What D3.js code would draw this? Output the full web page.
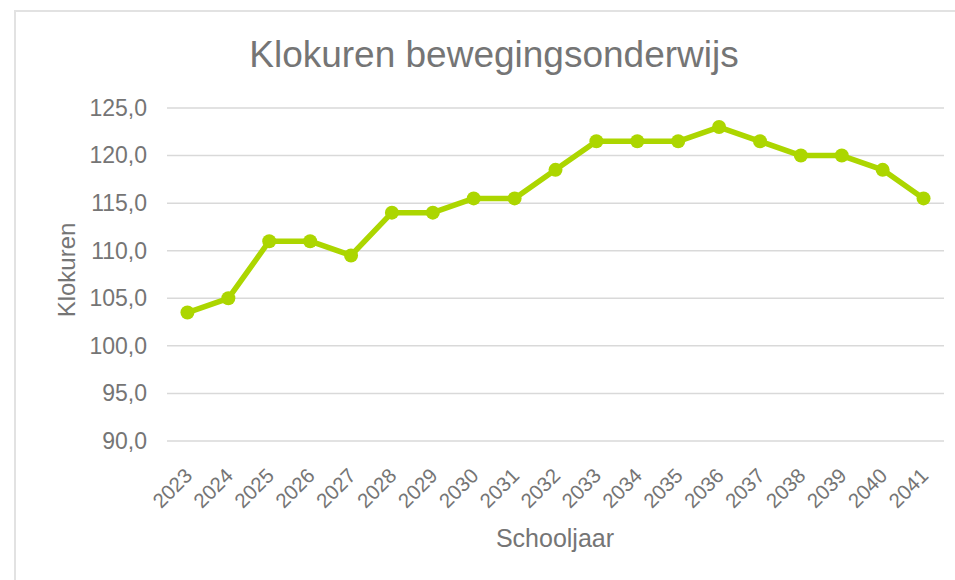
<!DOCTYPE html>
<html>
<head>
<meta charset="utf-8">
<script src="https://cdn.jsdelivr.net/npm/d3@7"></script>
<style>
  html, body { margin: 0; padding: 0; background: #fff; }
  svg { display: block; font-family: "Liberation Sans", Arial, sans-serif; }
</style>
</head>
<body>
<svg id="chart" width="955" height="580"></svg>
<script>
const years = ["2023","2024","2025","2026","2027","2028","2029","2030","2031","2032","2033","2034","2035","2036","2037","2038","2039","2040","2041"];
const klokuren = [103.5,105,111,111,109.5,114,114,115.5,115.5,118.5,121.5,121.5,121.5,123,121.5,120,120,118.5,115.5];
const yTicks = [90,95,100,105,110,115,120,125];
const title = "Klokuren bewegingsonderwijs";
const yTitle = "Klokuren";
const xTitle = "Schooljaar";

(function () {
const svg = d3.select("#chart");
const textColor = "#757575";
const lineColor = "#acd600";
const ff = "Liberation Sans, Arial, sans-serif";

// outer chart border
svg.append("rect").attr("x", 15).attr("y", 11).attr("width", 960).attr("height", 600)
  .attr("fill", "none").attr("stroke", "#e2e2e2").attr("stroke-width", 2);

const pLeft = 167, pRight = 944, pTop = 108, pBottom = 441;
const x = d3.scaleBand().domain(years).range([pLeft, pRight]);
const y = d3.scaleLinear().domain([90, 125]).range([pBottom, pTop]);

// gridlines
svg.append("g").selectAll("line").data(yTicks).join("line")
  .attr("x1", pLeft).attr("x2", pRight)
  .attr("y1", d => y(d)).attr("y2", d => y(d))
  .attr("stroke", "#d9d9d9").attr("stroke-width", 1.5);

// y axis labels
const fmt = d => d3.format(".1f")(d).replace(".", ",");
const yAxis = d3.axisLeft(y).tickValues(yTicks).tickFormat(fmt).tickSize(0).tickPadding(0);
const gy = svg.append("g").attr("transform", `translate(147,0)`).call(yAxis);
gy.select(".domain").remove();
gy.selectAll("text").attr("fill", textColor).attr("font-size", 23).attr("font-family", ff);

// x axis labels
const xAxis = d3.axisBottom(x).tickSize(0).tickPadding(0);
const gx = svg.append("g").attr("transform", `translate(0,${pBottom})`).call(xAxis);
gx.select(".domain").remove();
gx.selectAll("text")
  .attr("fill", textColor).attr("font-size", 20.5).attr("font-family", ff)
  .attr("text-anchor", "end")
  .attr("dy", "0")
  .attr("y", 0)
  .attr("transform", "translate(6,36) rotate(-45)");

// line
const line = d3.line().x((d, i) => x(years[i]) + x.bandwidth() / 2).y(d => y(d));
svg.append("path").datum(klokuren).attr("d", line)
  .attr("fill", "none").attr("stroke", lineColor).attr("stroke-width", 5.5)
  .attr("stroke-linejoin", "round").attr("stroke-linecap", "round");

svg.append("g").selectAll("circle").data(klokuren).join("circle")
  .attr("cx", (d, i) => x(years[i]) + x.bandwidth() / 2)
  .attr("cy", d => y(d))
  .attr("r", 7)
  .attr("fill", lineColor);

// titles
svg.append("text").attr("x", 494).attr("y", 67).attr("text-anchor", "middle")
  .attr("fill", textColor).attr("font-size", 37).attr("font-family", ff).text(title);

svg.append("text").attr("transform", "translate(75,270) rotate(-90)")
  .attr("text-anchor", "middle").attr("fill", textColor).attr("font-size", 24).attr("font-family", ff).text(yTitle);

svg.append("text").attr("x", 555).attr("y", 547).attr("text-anchor", "middle")
  .attr("fill", textColor).attr("font-size", 25).attr("font-family", ff).text(xTitle);
})();
</script>
</body>
</html>
